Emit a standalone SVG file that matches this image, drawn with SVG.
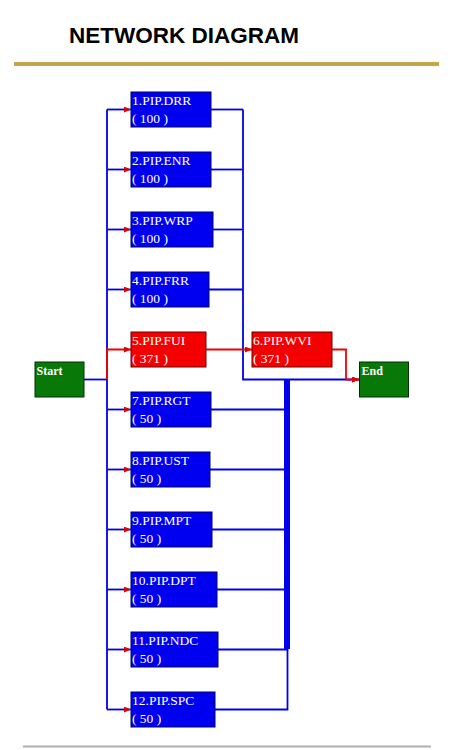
<svg xmlns="http://www.w3.org/2000/svg" width="450" height="750" viewBox="0 0 450 750">
<style>
.title{font-family:"Liberation Sans",Arial,sans-serif;font-weight:bold;font-size:22.5px;fill:#000}
.blue{fill:#0000F0;stroke:#00006A;stroke-width:1}
.red{fill:#F50000;stroke:#6A0000;stroke-width:1}
.green{fill:#087808;stroke:#033003;stroke-width:1}
.lbl{font-family:"Liberation Serif","Times New Roman",serif;font-size:13.5px;fill:#fff}
.se{font-family:"Liberation Serif","Times New Roman",serif;font-size:12px;font-weight:bold;fill:#fff}
.cb{fill:none;stroke:#0000EE;stroke-width:1.8}
.cr{fill:none;stroke:#F00000;stroke-width:1.8}
</style>
<defs>
<marker id="ah" viewBox="0 0 7 6" refX="7" refY="3" markerWidth="7" markerHeight="6" markerUnits="userSpaceOnUse" orient="auto">
<path d="M0,0 L7,3 L0,6 z" fill="#E00000"/>
</marker>
</defs>
<rect width="450" height="750" fill="#fff"/>
<text class="title" x="69" y="43">NETWORK DIAGRAM</text>
<rect x="14" y="62" width="425" height="4" fill="#C3A447"/>
<rect x="23" y="745.5" width="408" height="2" fill="#B0B0B0"/>

<g id="connectors">
<path class="cb" d="M107,109.5 V709.5"/>
<path class="cb" d="M84,379.5 H107"/>
<path class="cb" d="M107,109.5 H131" marker-end="url(#ah)"/>
<path class="cb" d="M107,169.5 H131" marker-end="url(#ah)"/>
<path class="cb" d="M107,229.5 H131" marker-end="url(#ah)"/>
<path class="cb" d="M107,289.5 H131" marker-end="url(#ah)"/>
<path class="cb" d="M107,409.5 H131" marker-end="url(#ah)"/>
<path class="cb" d="M107,469.5 H131" marker-end="url(#ah)"/>
<path class="cb" d="M107,529.5 H131" marker-end="url(#ah)"/>
<path class="cb" d="M107,589.5 H131" marker-end="url(#ah)"/>
<path class="cb" d="M107,649.5 H131" marker-end="url(#ah)"/>
<path class="cb" d="M107,709.5 H131" marker-end="url(#ah)"/>
<path class="cb" d="M211,109.5 H243"/>
<path class="cb" d="M211,169.5 H243"/>
<path class="cb" d="M213,229.5 H243"/>
<path class="cb" d="M209,289.5 H243"/>
<path class="cb" d="M243,109.5 V379.5 H359" marker-end="url(#ah)"/>
<path class="cb" d="M211,409.5 H287"/>
<path class="cb" d="M210,469.5 H287"/>
<path class="cb" d="M212,529.5 H287"/>
<path class="cb" d="M217,589.5 H287"/>
<path class="cb" d="M218,649.5 H288"/>
<path class="cb" d="M215,709.5 H287.5 V649"/>
<path d="M287,379.5 V649" fill="none" stroke="#0000EE" stroke-width="6"/>
<path class="cr" d="M107,379.5 V349.5 H131" marker-end="url(#ah)"/>
<path class="cr" d="M206,349.5 H252" marker-end="url(#ah)"/>
<path class="cr" d="M332,349.5 H346 V379.5 H359" marker-end="url(#ah)"/>
</g>

<g id="start"><rect class="green" x="35" y="362" width="49" height="35"/><text class="se" x="36.5" y="375">Start</text></g>
<g id="end"><rect class="green" x="359.5" y="362" width="49" height="35"/><text class="se" x="361.5" y="375">End</text></g>

<g id="n1"><rect class="blue" x="131" y="92" width="80" height="35"/><text class="lbl" x="132" y="105">1.PIP.DRR</text><text class="lbl" x="132" y="122.5">( 100 )</text></g>
<g id="n2"><rect class="blue" x="131" y="152" width="80" height="35"/><text class="lbl" x="132" y="165">2.PIP.ENR</text><text class="lbl" x="132" y="182.5">( 100 )</text></g>
<g id="n3"><rect class="blue" x="131" y="212" width="82" height="35"/><text class="lbl" x="132" y="225">3.PIP.WRP</text><text class="lbl" x="132" y="242.5">( 100 )</text></g>
<g id="n4"><rect class="blue" x="131" y="272" width="78" height="35"/><text class="lbl" x="132" y="285">4.PIP.FRR</text><text class="lbl" x="132" y="302.5">( 100 )</text></g>
<g id="n5"><rect class="red" x="131" y="332" width="75" height="35"/><text class="lbl" x="132" y="345">5.PIP.FUI</text><text class="lbl" x="132" y="362.5">( 371 )</text></g>
<g id="n6"><rect class="red" x="252" y="332" width="80" height="35"/><text class="lbl" x="253" y="345">6.PIP.WVI</text><text class="lbl" x="253" y="362.5">( 371 )</text></g>
<g id="n7"><rect class="blue" x="131" y="392" width="80" height="35"/><text class="lbl" x="132" y="405">7.PIP.RGT</text><text class="lbl" x="132" y="422.5">( 50 )</text></g>
<g id="n8"><rect class="blue" x="131" y="452" width="79" height="35"/><text class="lbl" x="132" y="465">8.PIP.UST</text><text class="lbl" x="132" y="482.5">( 50 )</text></g>
<g id="n9"><rect class="blue" x="131" y="512" width="81" height="35"/><text class="lbl" x="132" y="525">9.PIP.MPT</text><text class="lbl" x="132" y="542.5">( 50 )</text></g>
<g id="n10"><rect class="blue" x="131" y="572" width="86" height="35"/><text class="lbl" x="132" y="585">10.PIP.DPT</text><text class="lbl" x="132" y="602.5">( 50 )</text></g>
<g id="n11"><rect class="blue" x="131" y="632" width="87" height="35"/><text class="lbl" x="132" y="645">11.PIP.NDC</text><text class="lbl" x="132" y="662.5">( 50 )</text></g>
<g id="n12"><rect class="blue" x="131" y="692" width="84" height="35"/><text class="lbl" x="132" y="705">12.PIP.SPC</text><text class="lbl" x="132" y="722.5">( 50 )</text></g>
</svg>
